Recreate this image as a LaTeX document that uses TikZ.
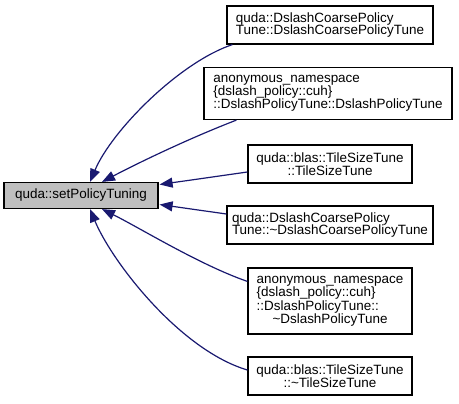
\documentclass[tikz,border=0pt]{standalone}
\usepackage{fontspec}
\setmainfont{Liberation Sans}
\usetikzlibrary{arrows.meta,calc}
\definecolor{edgecol}{HTML}{191970}
\definecolor{mainfill}{HTML}{BFBFBF}
\tikzset{
  box/.style={draw=black, line width=1.2bp, inner sep=0pt, font=\fontsize{13.5}{12.8}\selectfont},
  edge/.style={draw=edgecol, line width=1.2bp, -{Triangle[length=13bp,width=10bp]}},
}
\begin{document}
\begin{tikzpicture}[x=1bp,y=-1bp]
\useasboundingbox (0,0) rectangle (459,403);
\node[box, fill=mainfill, minimum width=154bp, minimum height=26bp] (main) at (81,195.5) {quda::setPolicyTuning};
\node[box, minimum width=206bp, minimum height=38bp, align=left] (b1) at (330,25)
  {quda::DslashCoarsePolicy\\Tune::DslashCoarsePolicyTune};
\node[box, minimum width=248bp, minimum height=52bp, align=left] (b2) at (328,93.5)
  {anonymous\_namespace\\\{dslash\_policy::cuh\}\\::DslashPolicyTune::DslashPolicyTune};
\node[box, minimum width=164bp, minimum height=38bp, align=center] (b3) at (330,164)
  {quda::blas::TileSizeTune\\::TileSizeTune};
\node[box, minimum width=206bp, minimum height=38bp, align=left] (b4) at (330,225)
  {quda::DslashCoarsePolicy\\Tune::\textasciitilde DslashCoarsePolicyTune};
\node[box, minimum width=164bp, minimum height=66bp] (b5) at (330,301)
  {\begin{tabular}{@{}l@{}}anonymous\_namespace\\\{dslash\_policy::cuh\}\\::DslashPolicyTune::\\\multicolumn{1}{@{}c@{}}{\textasciitilde DslashPolicyTune}\end{tabular}};
\node[box, minimum width=164bp, minimum height=38bp, align=center] (b6) at (330,376)
  {quda::blas::TileSizeTune\\::\textasciitilde TileSizeTune};

\draw[edge] ($(b1.south west)+(6,0)$) .. controls (180,62) and (112,130) .. ($(main.north)+(9,0)$);
\draw[edge] ($(b2.south west)+(33,0)$) .. controls (190,138) and (140,162) .. ($(main.north)+(21,0)$);
\draw[edge] ($(b3.west)+(0,8)$) -- ($(main.east)+(1,-11)$);
\draw[edge] ($(b4.west)+(0,-11)$) -- ($(main.east)+(1,9)$);
\draw[edge] ($(b5.north west)+(0,14)$) .. controls (200,265) and (140,228) .. ($(main.south)+(21,0)$);
\draw[edge] ($(b6.west)+(0,-6)$) .. controls (180,350) and (112,262) .. ($(main.south)+(9,0)$);
\end{tikzpicture}
\end{document}
